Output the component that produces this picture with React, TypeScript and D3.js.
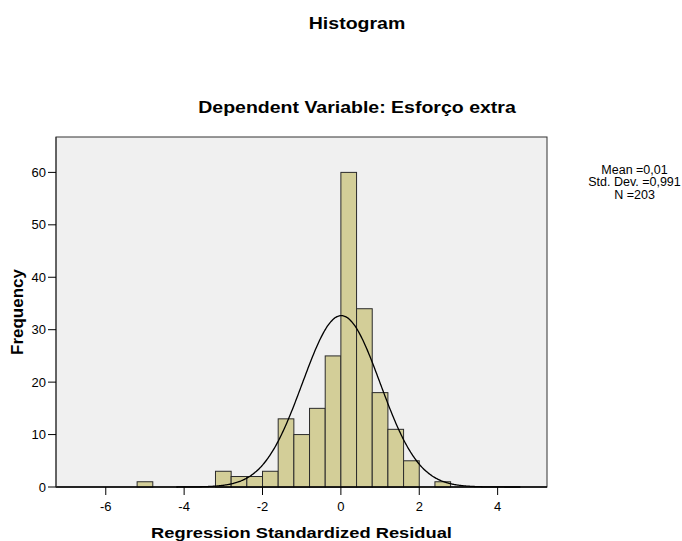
import React from 'react';
import * as d3 from 'd3';

// histogram bins (width 0.4) and counts
const binStarts = [-5.2, -3.2, -2.8, -2.4, -2.0, -1.6, -1.2, -0.8, -0.4, 0.0, 0.4, 0.8, 1.2, 1.6, 2.4];
const counts = [1, 3, 2, 2, 3, 13, 10, 15, 25, 60, 34, 18, 11, 5, 1];
const binWidth = 0.4;
const xTicks = [-6, -4, -2, 0, 2, 4];
const yTicks = [0, 10, 20, 30, 40, 50, 60];
const stats = ['Mean =0,01', 'Std. Dev. =0,991', 'N =203'];
const mean = 0.01;
const sd = 0.991;
const n = 203;

const W = 682;
const H = 541;
const margin = { top: 137, right: 135, bottom: 54, left: 56 };

const App = () => {
  const innerW = W - margin.left - margin.right;
  const innerH = H - margin.top - margin.bottom;

  const x = d3.scaleLinear().domain([-7.27, 5.26]).range([0, innerW]);
  const y = d3.scaleLinear().domain([0, 66.75]).range([innerH, 0]);

  const bars = binStarts.map((s, i) => ({ x0: s, x1: s + binWidth, count: counts[i] }));

  // normal curve scaled to the histogram
  const curvePts = d3.range(-4.2, 4.6, 0.02).map(v => ({
    v,
    f: n * binWidth * Math.exp(-0.5 * ((v - mean) / sd) ** 2) / (sd * Math.sqrt(2 * Math.PI)),
  }));
  const line = d3
    .line<{ v: number; f: number }>()
    .x(d => x(d.v))
    .y(d => y(d.f))
    .curve(d3.curveBasis);

  const font = 'Arial, "Liberation Sans", sans-serif';
  const stretch = 1.22; // titles in the original are a bit wider

  return (
    <svg width={W} height={H} style={{ position: 'absolute', left: 0, top: 0 }} fontFamily={font}>
      <rect width={W} height={H} fill="white" />
      <g transform={`translate(357,29) scale(${stretch},1)`}>
        <text textAnchor="middle" fontSize={16} fontWeight="bold">Histogram</text>
      </g>
      <g transform={`translate(357,113) scale(${stretch},1)`}>
        <text textAnchor="middle" fontSize={16} fontWeight="bold">Dependent Variable: Esforço extra</text>
      </g>

      <g transform={`translate(${margin.left},${margin.top})`}>
        <rect width={innerW} height={innerH} fill="#f0f0f0" stroke="#333" strokeWidth={1} />

        {bars.map((b, i) => (
          <rect
            key={i}
            x={x(b.x0)}
            y={y(b.count)}
            width={x(b.x1) - x(b.x0)}
            height={y(0) - y(b.count)}
            fill="#d3ce98"
            stroke="#2b2b2b"
            strokeWidth={1}
          />
        ))}

        <path d={line(curvePts) || ''} fill="none" stroke="#000" strokeWidth={1.3} />

        {/* axes */}
        <line x1={0} x2={innerW} y1={innerH} y2={innerH} stroke="#000" strokeWidth={1.5} />
        <line x1={0} x2={0} y1={0} y2={innerH} stroke="#333" strokeWidth={1} />

        {yTicks.map(t => (
          <g key={t} transform={`translate(0,${y(t)})`}>
            <line x1={-8} x2={0} stroke="#000" strokeWidth={1} />
            <text x={-10} dy="0.35em" textAnchor="end" fontSize={13}>{t}</text>
          </g>
        ))}
        {xTicks.map(t => (
          <g key={t} transform={`translate(${x(t)},${innerH})`}>
            <line y1={0} y2={8} stroke="#000" strokeWidth={1} />
            <text y={24} textAnchor="middle" fontSize={13}>{t}</text>
          </g>
        ))}
      </g>

      <text
        transform={`translate(23,${margin.top + innerH / 2}) rotate(-90)`}
        textAnchor="middle"
        fontSize={17}
        fontWeight="bold"
      >
        Frequency
      </text>
      <g transform={`translate(${margin.left + innerW / 2},538) scale(${stretch},1)`}>
        <text textAnchor="middle" fontSize={15} fontWeight="bold">Regression Standardized Residual</text>
      </g>

      {stats.map((s, i) => (
        <text key={s} x={634.5} y={173.5 + i * 12.5} textAnchor="middle" fontSize={12.5}>{s}</text>
      ))}
    </svg>
  );
};

export default App;
